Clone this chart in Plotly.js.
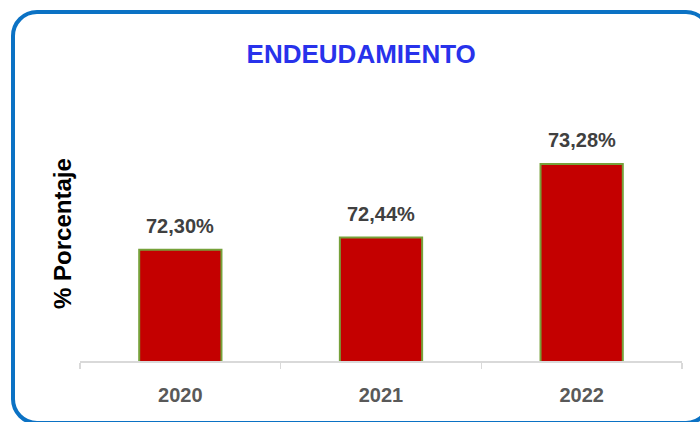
<!DOCTYPE html>
<html>
<head>
<meta charset="utf-8">
<script src="https://cdn.plot.ly/plotly-3.0.1.min.js"></script>
<style>
  html, body { margin: 0; padding: 0; width: 700px; height: 422px; overflow: hidden; background: #ffffff; }
  #frame { position: absolute; left: 11px; top: 10px; width: 693px; height: 407px; border: 4px solid #0B72C4; border-radius: 26px; box-sizing: content-box; }
  #chart { position: absolute; left: 0; top: 0; width: 700px; height: 422px; }
</style>
</head>
<body>
<div id="frame"></div>
<div id="chart"></div>
<script>
const years = ['2020', '2021', '2022'];
const values = [72.30, 72.44, 73.28];
const chartTitle = 'ENDEUDAMIENTO';
const yTitle = '% Porcentaje';

const fmt = v => v.toFixed(2).replace('.', ',') + '%';
const FONT = 'Liberation Sans, Arial, sans-serif';

const trace = {
  type: 'bar',
  x: years,
  y: values,
  marker: { color: '#C40000', line: { color: '#76A13A', width: 2 } },
  hoverinfo: 'skip'
};

const labelAnns = years.map((yr, i) => ({
  x: i, y: values[i], xref: 'x', yref: 'y',
  text: '<b>' + fmt(values[i]) + '</b>',
  showarrow: false, yanchor: 'bottom', yshift: 11,
  font: { family: FONT, size: 20, color: '#404040' }
}));

const layout = {
  width: 700, height: 422,
  margin: { l: 80, r: 18, t: 101, b: 61 },
  paper_bgcolor: 'rgba(0,0,0,0)',
  plot_bgcolor: 'rgba(0,0,0,0)',
  showlegend: false,
  bargap: 0.59,
  title: {
    text: '<b>' + chartTitle + '</b>',
    x: 0.516, xref: 'container', xanchor: 'center',
    y: 0.873, yref: 'container', yanchor: 'middle',
    font: { family: FONT, size: 26, color: '#2832EB' }
  },
  xaxis: {
    type: 'category',
    range: [-0.5, 2.5],
    showline: true, linecolor: '#D9D9D9', linewidth: 1.5,
    ticks: 'outside', tickson: 'boundaries', ticklen: 6, tickcolor: '#D9D9D9', tickwidth: 1.5,
    ticklabelstandoff: 15,
    tickfont: { family: FONT, size: 20, color: '#595959', weight: 'bold' },
    showgrid: false, zeroline: false
  },
  yaxis: {
    range: [71.03, 74.0],
    showticklabels: false, showgrid: false, zeroline: false, showline: false, ticks: ''
  },
  annotations: labelAnns.concat([{
    text: '<b>' + yTitle + '</b>',
    xref: 'paper', yref: 'paper', x: -0.03, y: 0.4923,
    xanchor: 'center', yanchor: 'middle', textangle: -90, showarrow: false,
    font: { family: FONT, size: 24, color: '#000000' }
  }])
};

Plotly.newPlot('chart', [trace], layout, { displayModeBar: false, staticPlot: true });
</script>
</body>
</html>
